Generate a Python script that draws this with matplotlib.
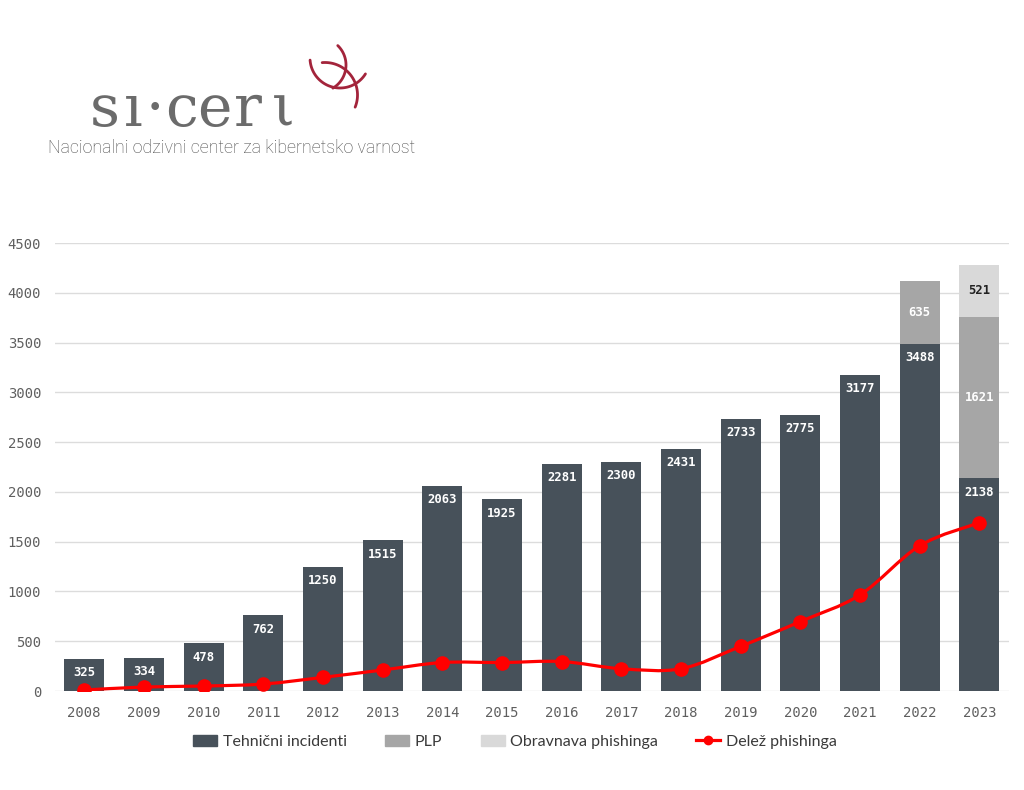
import numpy as np
import matplotlib
matplotlib.use('Agg')
import matplotlib.pyplot as plt
from matplotlib.path import Path
from matplotlib.patches import PathPatch, Patch
from matplotlib.lines import Line2D

# data
years = ['2008', '2009', '2010', '2011', '2012', '2013', '2014', '2015',
         '2016', '2017', '2018', '2019', '2020', '2021', '2022', '2023']
tehnicni = [325, 334, 478, 762, 1250, 1515, 2063, 1925,
            2281, 2300, 2431, 2733, 2775, 3177, 3488, 2138]
plp = [0, 0, 0, 0, 0, 0, 0, 0, 0, 0, 0, 0, 0, 0, 635, 1621]
obravnava = [0, 0, 0, 0, 0, 0, 0, 0, 0, 0, 0, 0, 0, 0, 0, 521]
delez = [10, 40, 50, 70, 137, 211, 286, 286,
         296, 224, 224, 449, 698, 966, 1459, 1691]

c_dark = '#47515a'
c_plp = '#a6a6a6'
c_obr = '#d9d9d9'
c_red = '#ff0000'
mono = 'DejaVu Sans Mono'

fig = plt.figure(figsize=(10.24, 7.9), dpi=100)
ax = fig.add_axes([0.0537, 0.1253, 0.9313, 0.5671])

x = np.arange(len(years))
w = 0.67
ax.bar(x, tehnicni, w, color=c_dark, zorder=2)
ax.bar(x, plp, w, bottom=tehnicni, color=c_plp, zorder=2)
bot3 = np.array(tehnicni) + np.array(plp)
ax.bar(x, obravnava, w, bottom=bot3, color=c_obr, zorder=2)

# value labels
for i in range(len(years)):
    ax.annotate(str(tehnicni[i]), (x[i], tehnicni[i]), xytext=(0, -10),
                textcoords='offset points', ha='center', va='center',
                color='white', fontsize=8.8, family=mono, fontweight='bold',
                zorder=4)
    if plp[i]:
        ax.text(x[i], tehnicni[i] + plp[i] / 2, str(plp[i]), ha='center',
                va='center', color='white', fontsize=8.8, family=mono,
                fontweight='bold', zorder=4)
    if obravnava[i]:
        ax.text(x[i], bot3[i] + obravnava[i] / 2, str(obravnava[i]),
                ha='center', va='center', color='#222222', fontsize=8.8,
                family=mono, fontweight='bold', zorder=4)

# smoothed line (catmull-rom -> bezier)
pts = np.column_stack([x, delez]).astype(float)
verts = [tuple(pts[0])]
codes = [Path.MOVETO]
for i in range(len(pts) - 1):
    p0 = pts[max(i - 1, 0)]
    p1 = pts[i]
    p2 = pts[i + 1]
    p3 = pts[min(i + 2, len(pts) - 1)]
    c1 = p1 + (p2 - p0) / 6
    c2 = p2 - (p3 - p1) / 6
    verts += [tuple(c1), tuple(c2), tuple(p2)]
    codes += [Path.CURVE4] * 3
ax.add_patch(PathPatch(Path(verts, codes), fill=False, edgecolor=c_red,
                       lw=2.3, zorder=3))
ax.plot(x, delez, 'o', color=c_red, ms=9.5, zorder=3)

ax.set_xlim(-0.49, len(years) - 0.51)
ax.set_ylim(0, 4500)
ax.set_yticks(np.arange(0, 4501, 500))
ax.set_xticks(x)
ax.set_xticklabels(years)
ax.grid(axis='y', color='#dcdcdc', lw=1, zorder=0)
for s in ax.spines.values():
    s.set_visible(False)
ax.tick_params(length=0, labelsize=10, labelcolor='#5f5f5f')
ax.tick_params(axis='x', pad=11)
ax.tick_params(axis='y', pad=10)
for t in ax.get_xticklabels() + ax.get_yticklabels():
    t.set_family(mono)

handles = [Patch(color=c_dark), Patch(color=c_plp), Patch(color=c_obr),
           Line2D([], [], color=c_red, lw=2.3, marker='o', ms=6)]
names = ['Tehnični incidenti', 'PLP', 'Obravnava phishinga', 'Delež phishinga']
leg = fig.legend(handles, names, loc='center', bbox_to_anchor=(0.503, 0.061),
                 ncol=4, frameon=False, handlelength=1.5, handleheight=0.7,
                 handletextpad=0.35, columnspacing=2.4,
                 prop={'family': 'Lato', 'size': 11.5})
for t in leg.get_texts():
    t.set_color('#3a3a3a')

# logo (pixel coords, y down)
lx = fig.add_axes([0, 0, 1, 1], zorder=-1)
lx.set_xlim(0, 1024)
lx.set_ylim(790, 0)
lx.axis('off')
logo_chars = ['s', 'ı', '·', 'c', 'e', 'r', 'ι']
logo_x = [105, 133, 155, 181, 214, 248, 283]
for ch, cx in zip(logo_chars, logo_x):
    lx.text(cx, 126, ch, family='DejaVu Serif', fontsize=42,
            color='#6b6b6b', va='baseline', ha='center')


def swoosh(cx, cy, r, t1, t2):
    t = np.radians(np.linspace(t1, t2, 80))
    lx.plot(cx + r * np.cos(t), cy + r * np.sin(t), color='#a3243b',
            lw=2, solid_capstyle='round')


swoosh(319, 65, 27, -46, 59)
swoosh(340, 58, 30, 32, 176)
swoosh(325, 95, 32.5, -95, 22)
lx.text(48, 148, 'Nacionalni odzivni center za kibernetsko varnost',
        family='Roboto', fontweight='light', fontsize=12.8, color='#4a4a4a',
        va='center', ha='left')

fig.savefig('out.png', dpi=100, facecolor='white')
